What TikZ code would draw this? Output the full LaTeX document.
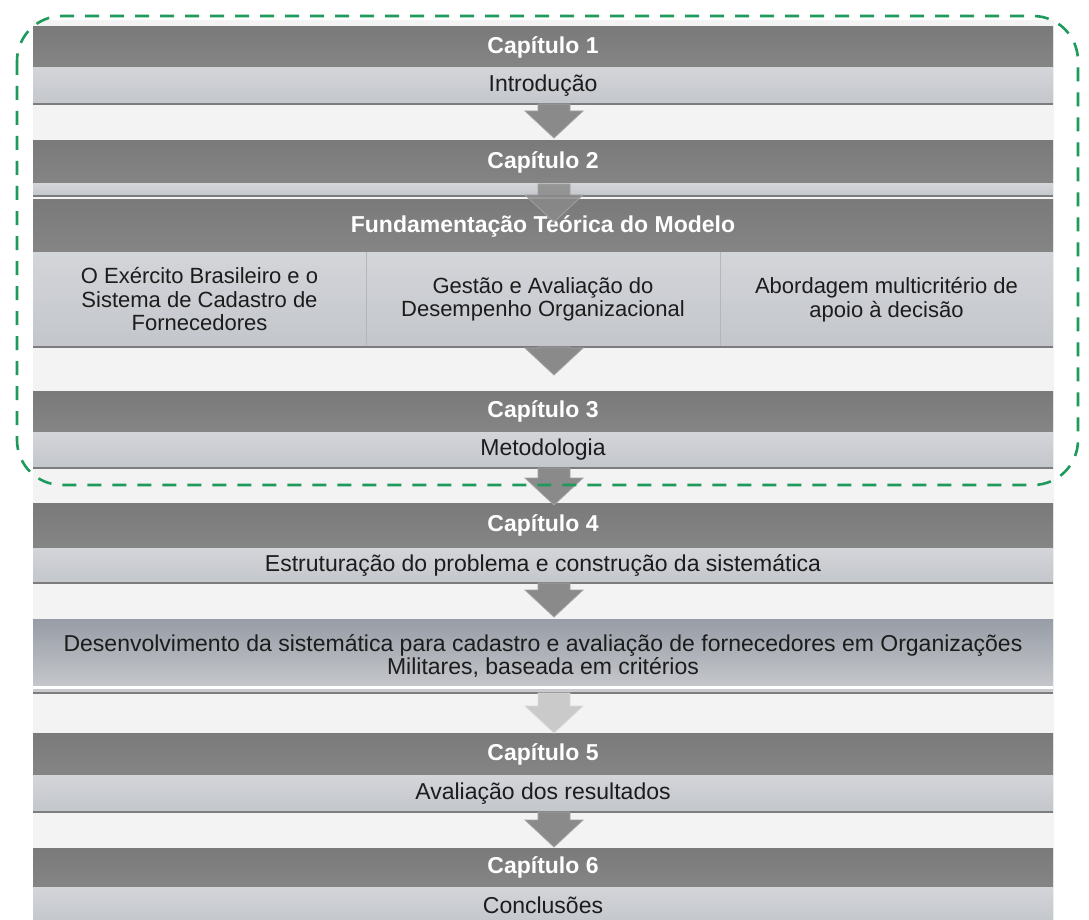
\documentclass[tikz,border=0pt]{standalone}
\usepackage{fontspec}
\setmainfont{Liberation Sans}
\usetikzlibrary{calc}

\definecolor{panel}{HTML}{F3F3F3}
\definecolor{hdrtop}{HTML}{7A7A7A}
\definecolor{hdrbot}{HTML}{858585}
\definecolor{striptop}{HTML}{D3D5D9}
\definecolor{stripbot}{HTML}{C3C6CB}
\definecolor{devtop}{HTML}{979CA6}
\definecolor{devbot}{HTML}{C9CBCE}
\definecolor{arrowgray}{HTML}{8A8A8A}
\definecolor{arrowedge}{HTML}{A2A2A2}
\definecolor{arrowlight}{HTML}{CACACA}
\definecolor{arrowlightedge}{HTML}{DADADA}
\definecolor{framegreen}{HTML}{1E9A5C}
\definecolor{textdark}{HTML}{1C1C1C}
\definecolor{shadowgray}{HTML}{7C7C7C}
\definecolor{divgray}{HTML}{B3B6BB}

\tikzset{
  boxbase/.style={anchor=north west, minimum width=1020pt, inner sep=0pt, outer sep=0pt},
  hdr/.style={boxbase, top color=hdrtop, bottom color=hdrbot, text=white,
    font=\fontsize{23}{23}\selectfont\bfseries},
  strip/.style={boxbase, top color=striptop, bottom color=stripbot, text=textdark,
    font=\fontsize{23}{23}\selectfont},
  colbox/.style={anchor=north west, inner sep=0pt, outer sep=0pt, minimum height=95pt,
    top color=striptop, bottom color=stripbot, text=textdark, align=center,
    font=\fontsize{22}{23.5}\selectfont},
  devbox/.style={boxbase, top color=devtop, bottom color=devbot, text=textdark,
    align=center, font=\fontsize{23}{23}\selectfont},
  darrow/.style={fill=arrowgray, draw=arrowedge, line width=0.8pt},
  lightdarrow/.style={fill=arrowlight, draw=arrowlightedge, line width=0.8pt},
  overarrow/.style={fill=arrowgray, draw=arrowedge, line width=0.8pt, fill opacity=0.85},
  shadowline/.style={draw=shadowgray, line width=1.6pt},
  divline/.style={draw=divgray, line width=1pt},
  groupframe/.style={draw=framegreen, line width=2.6pt, dash pattern=on 14pt off 11pt,
    rounded corners=45pt}
}

% block arrow pointing down: shaft from #2, head tip at #3
\newcommand\blockarrow[3]{%
  \path[#1] let \p1=(#2), \p2=(#3) in
    (\x1-16pt,\y1) -- (\x1+16pt,\y1) -- (\x1+16pt,\y2+27pt) -- (\x1+29pt,\y2+27pt)
    -- (\x1,\y2) -- (\x1-29pt,\y2+27pt) -- (\x1-16pt,\y2+27pt) -- cycle;}

\begin{document}
\begin{tikzpicture}[x=1pt, y=-1pt]
\useasboundingbox (0,0) rectangle (1089,920);
\fill[white] (0,0) rectangle (1089,920);
\fill[panel] (33,20) rectangle (1054,920);

% chapter 1
\node[hdr, minimum height=41pt] (c1h) at (33,27) {Capítulo 1};
\node[strip, minimum height=36pt] (c1s) at (33,68) {Introdução};
\draw[shadowline] (c1s.south west) -- (c1s.south east);

% chapter 2
\node[hdr, minimum height=43pt] (c2h) at (33,141) {Capítulo 2};
\node[strip, minimum height=12pt] (c2s) at (33,184) {};
\draw[shadowline] (c2s.south west) -- (c2s.south east);

% theoretical foundation
\node[hdr, minimum height=52pt] (fh) at (33,200) {Fundamentação Teórica do Modelo};
\node[colbox, minimum width=333pt] (fa) at (33,252)
  {O Exército Brasileiro e o\\Sistema de Cadastro de\\Fornecedores};
\node[colbox, minimum width=354pt] (fb) at (366,252)
  {Gestão e Avaliação do\\Desempenho Organizacional};
\node[colbox, minimum width=333pt] (fc) at (720,252)
  {Abordagem multicritério de\\apoio à decisão};
\draw[divline] (fb.north west) -- (fb.south west);
\draw[divline] (fc.north west) -- (fc.south west);
\draw[shadowline] (fa.south west) -- (fc.south east);

% chapter 3
\node[hdr, minimum height=41pt] (c3h) at (33,391) {Capítulo 3};
\node[strip, minimum height=36pt] (c3s) at (33,432) {Metodologia};
\draw[shadowline] (c3s.south west) -- (c3s.south east);

% chapter 4
\node[hdr, minimum height=45pt] (c4h) at (33,503) {Capítulo 4};
\node[strip, minimum height=35pt] (c4s) at (33,548)
  {Estruturação do problema e construção da sistemática};
\draw[shadowline] (c4s.south west) -- (c4s.south east);

% development
\node[devbox, minimum height=74pt] (dev) at (33,619)
  {Desenvolvimento da sistemática para cadastro e avaliação de fornecedores em Organizações\\Militares, baseada em critérios};
\draw[white, line width=3pt] ([yshift=6pt]dev.south west) -- ([yshift=6pt]dev.south east);
\draw[shadowline] (dev.south west) -- (dev.south east);

% chapter 5
\node[hdr, minimum height=42pt] (c5h) at (33,733) {Capítulo 5};
\node[strip, minimum height=37pt] (c5s) at (33,775) {Avaliação dos resultados};
\draw[shadowline] (c5s.south west) -- (c5s.south east);

% chapter 6
\node[hdr, minimum height=39pt] (c6h) at (33,848) {Capítulo 6};
\node[strip, minimum height=36pt] (c6s) at (33,887) {Conclusões};

% connectors between the stages
\blockarrow{darrow}{[xshift=11pt]c1s.south}{[xshift=11pt,yshift=3pt]c2h.north}
\blockarrow{overarrow}{[xshift=11pt]c2h.south}{[xshift=11pt,yshift=-22pt]fh.north}
\blockarrow{darrow}{[xshift=11pt]fb.south}{[xshift=11pt,yshift=16pt]c3h.north}
\blockarrow{darrow}{[xshift=11pt]c3s.south}{[xshift=11pt,yshift=-2pt]c4h.north}
\blockarrow{darrow}{[xshift=11pt]c4s.south}{[xshift=11pt,yshift=2pt]dev.north}
\blockarrow{lightdarrow}{[xshift=11pt]dev.south}{[xshift=11pt]c5h.north}
\blockarrow{darrow}{[xshift=11pt]c5s.south}{[xshift=11pt,yshift=1pt]c6h.north}

% chapters 1 to 3 grouped
\draw[groupframe] (17,16) rectangle (1078,485);
\end{tikzpicture}
\end{document}
